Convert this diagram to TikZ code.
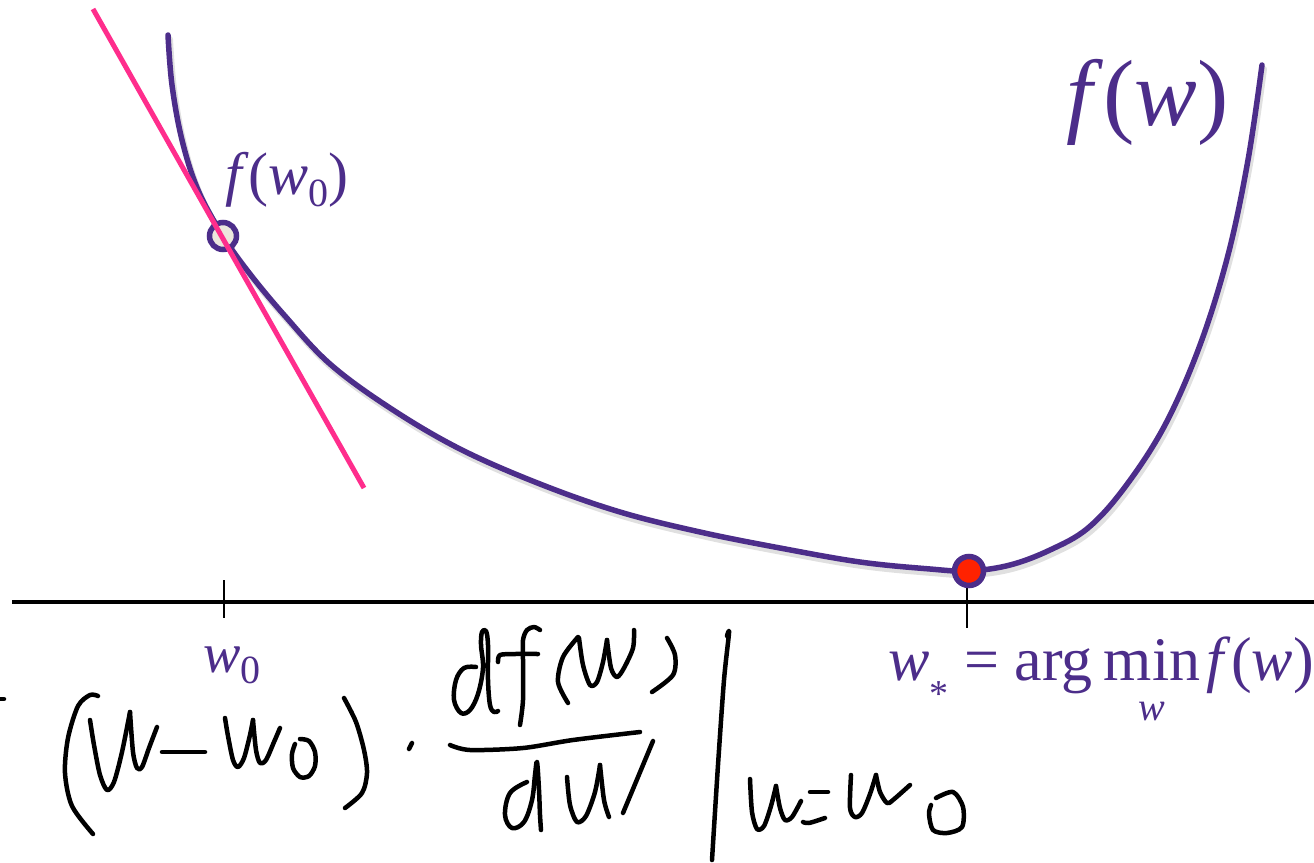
\documentclass[tikz,border=0pt]{standalone}
\usepackage{fontspec}
\setmainfont{Liberation Serif}
\definecolor{fpurple}{RGB}{76,45,138}
\definecolor{tpink}{RGB}{255,45,140}
\definecolor{mred}{RGB}{255,34,0}
\definecolor{ofill}{RGB}{236,231,221}
\newcommand\lowsub[1]{\raisebox{-0.2em}{\fontsize{40}{42}\selectfont #1}}
\newcommand\lowstar{\raisebox{-0.42em}{\fontsize{38}{40}\selectfont *}}
\begin{document}
\begin{tikzpicture}[x=1pt,y=-1pt,
  hand/.style={line width=4.5pt, line cap=round, line join=round},
  lbl/.style={text=fpurple, font=\fontsize{60}{64}\selectfont, inner sep=0pt},
  dotnode/.style={circle, draw=fpurple, line width=5.5pt, inner sep=0pt}]
\useasboundingbox (0,0) rectangle (1314,862);
\fill[white] (0,0) rectangle (1314,862);
% axis and ticks
\draw[line width=3.5pt] (12,602) -- (1314,602);
\draw[line width=2pt] (224,580) -- (224,618);
\draw[line width=2pt] (967,585) -- (967,628);
% curve shadow and curve
\draw[black, opacity=0.12, line width=6pt, line cap=round, shift={(2,4)}] plot[smooth, tension=0.6] coordinates {(168,35) (172,85) (182,140) (198,190) (223,236) (250,274) (285,316) (330,364) (390,408) (460,449) (540,484) (620,512) (700,532) (780,548) (860,562) (930,569) (969,571) (1010,565) (1050,550) (1088,528) (1125,487) (1165,425) (1200,345) (1228,255) (1248,160) (1262,65)};
\draw[fpurple, line width=5.5pt, line cap=round] plot[smooth, tension=0.6] coordinates {(168,35) (172,85) (182,140) (198,190) (223,236) (250,274) (285,316) (330,364) (390,408) (460,449) (540,484) (620,512) (700,532) (780,548) (860,562) (930,569) (969,571) (1010,565) (1050,550) (1088,528) (1125,487) (1165,425) (1200,345) (1228,255) (1248,160) (1262,65)};
% points
\node[dotnode, fill=ofill, minimum size=27pt] (p0) at (223,236) {};
\node[dotnode, fill=mred, minimum size=29pt] (pmin) at (969,571) {};
% tangent
\draw[tpink, line width=5pt] (93,9) -- (364,488);
% labels
\node[lbl, anchor=base west] (fwz) at (225,194) {\textit{f}(\textit{w}\lowsub{0})};
\node[lbl, font=\fontsize{94}{100}\selectfont, anchor=base west] (fw) at (1066,125) {\textit{f}(\textit{w})};
\node[lbl, font=\fontsize{56}{60}\selectfont, anchor=base west] (wz) at (203,672) {\textit{w}\lowsub{0}};
\node[lbl, font=\fontsize{62}{66}\selectfont, anchor=base west] (ws) at (888,680) {\textit{w}\lowstar\kern 0.25em=\kern 0.25em arg};
\node[lbl, font=\fontsize{62}{66}\selectfont, anchor=base west] (wsmin) at ([xshift=11pt]ws.base east) {min};
\node[lbl, font=\fontsize{62}{66}\selectfont, anchor=base west] (wsf) at ([xshift=6pt]wsmin.base east) {\textit{f}(\textit{w})};
\node[lbl, font=\fontsize{40}{42}\selectfont, anchor=base] (wsub) at ([yshift=-40pt]wsmin.base) {\textit{w}};
% handwriting
\draw[hand] (0,699) -- (4,699);
\draw[hand] plot[smooth] coordinates {(98,696) (90,695) (78,706) (68,738) (65,773) (72,806) (93,834)};
\draw[hand] plot[smooth, tension=0.5] coordinates {(90,720) (94,745) (100,775) (107,790) (114,782) (122,752) (130,712)};
\draw[hand] plot[smooth, tension=0.5] coordinates {(130,712) (133,752) (137,768) (142,767) (149,748) (157,727)};
\draw[hand] (162,752) -- (205,752);
\draw[hand] plot[smooth, tension=0.5] coordinates {(225,718) (228,736) (233,760) (238,767) (244,758) (250,735) (253,720)};
\draw[hand] plot[smooth, tension=0.5] coordinates {(253,720) (256,750) (260,763) (266,760) (274,742) (280,728)};
\draw[hand] plot[smooth] coordinates {(300,739) (309,741) (315,752) (315,766) (309,776) (300,777) (293,768) (292,754) (295,744)};
\draw[hand] plot[smooth] coordinates {(344,698) (356,722) (364,750) (367,773) (362,793) (345,808)};
\draw[hand] (412,743) -- (409,749);
% numerator
\draw[hand] plot[smooth, tension=0.6] coordinates {(476,667) (464,668) (456,680) (454,700) (461,713) (470,710) (478,694) (483,668) (481,645) (482,632) (486,631) (488,645) (488,680) (490,705) (494,712) (498,711)};
\draw[hand] plot[smooth] coordinates {(520,725) (523,700) (523,660) (523,640) (527,630) (534,627) (540,630)};
\draw[hand] plot[smooth] coordinates {(498,662) (500,655) (515,654) (538,654)};
\draw[hand] plot[smooth] coordinates {(578,637) (563,657) (558,682) (568,703)};
\draw[hand] plot[smooth, tension=0.5] coordinates {(579,638) (583,665) (590,685) (597,682) (603,662) (607,640)};
\draw[hand] plot[smooth, tension=0.5] coordinates {(607,640) (611,668) (617,677) (624,668) (633,648) (634,630)};
\draw[hand] plot[smooth] coordinates {(667,638) (675,655) (673,675) (652,692)};
\draw[hand] plot[smooth] coordinates {(450,745) (470,750) (523,748) (573,740) (640,732)};
% denominator
\draw[hand] plot[smooth, tension=0.6] coordinates {(527,782) (510,793) (505,815) (512,828) (524,822) (532,800) (535,775) (537,762) (539,790) (540,815) (541,830)};
\draw[hand] plot[smooth, tension=0.5] coordinates {(567,777) (570,805) (577,822) (586,816) (595,792) (600,765)};
\draw[hand] plot[smooth, tension=0.5] coordinates {(600,765) (604,800) (609,817)};
\draw[hand] plot[smooth] coordinates {(653,741) (638,777) (623,813)};
% evaluation bar
\draw[hand] plot[smooth] coordinates {(727,636) (729,633) (724,680) (718,765) (712,860)};
\draw[hand] plot[smooth, tension=0.5] coordinates {(750,779) (752,812) (757,829) (764,826) (771,806) (776,786)};
\draw[hand] plot[smooth, tension=0.5] coordinates {(776,786) (780,808) (785,820) (792,817) (801,801)};
\draw[hand] (810,792) -- (828,792);
\draw[hand] plot[smooth] coordinates {(803,822) (809,823) (825,818)};
\draw[hand] plot[smooth, tension=0.5] coordinates {(851,775) (850,808) (855,817) (862,813) (870,794) (876,775)};
\draw[hand] plot[smooth, tension=0.5] coordinates {(876,775) (880,792) (887,803) (893,800) (910,785)};
\draw[hand] plot[smooth] coordinates {(936,798) (953,792) (963,807) (962,827) (947,833) (933,830) (929,814) (931,805)};
\end{tikzpicture}
\end{document}
